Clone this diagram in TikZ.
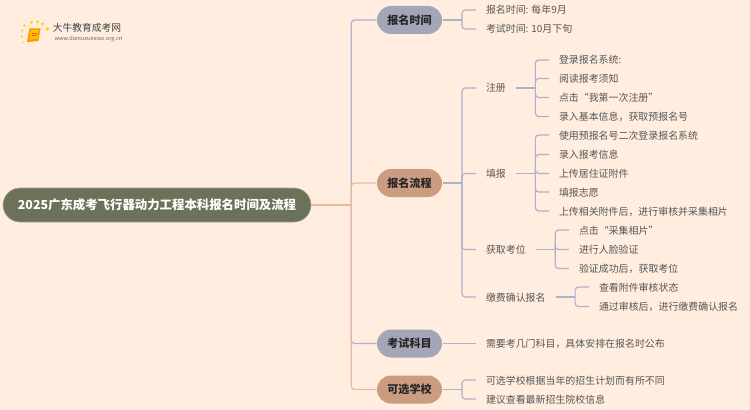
\documentclass[tikz,border=0pt]{standalone}
\usepackage{fontspec}
\setmainfont{Noto Sans CJK SC}
\usetikzlibrary{shapes.misc}
\definecolor{bgc}{HTML}{FFEEE0}
\definecolor{rootc}{HTML}{6B7259}
\definecolor{bluec}{HTML}{A5A5B8}
\definecolor{orc}{HTML}{CC9C80}
\definecolor{lblue}{HTML}{ADB1C9}
\definecolor{lor}{HTML}{E6B9A0}
\definecolor{leaftxt}{HTML}{555555}
\newcommand{\conn}[2]{\draw[lnk] (#1.east) ++(19.5,0) |- (#2.west);}
\newcommand{\stem}[1]{\draw[lnkstraight] (#1.east) -- ++(19.5,0);}
\tikzset{
  x=0.75pt,y=-0.75pt,
  lnk/.style={draw=lblue,line width=0.9pt,rounded corners=2.5pt},
  lnkstraight/.style={draw=lblue,line width=0.9pt},
  lnkor/.style={draw=lor,line width=0.9pt,rounded corners=2.5pt},
  lnkorstraight/.style={draw=lor,line width=0.9pt},
  leaf/.style={anchor=west,inner xsep=7.5pt,inner ysep=1pt,outer sep=0pt,text=leaftxt,text height=7.5pt,text depth=1.5pt,font=\fontsize{7.45}{9}\selectfont},
  pill/.style={rounded rectangle,minimum width=48.75pt,minimum height=21pt,inner sep=0pt,outer sep=0.4pt,text=black!85,text height=8pt,text depth=1.7pt,font=\fontsize{8.3}{10}\selectfont\bfseries},
  bluepill/.style={pill,fill=bluec},
  orpill/.style={pill,fill=orc},
  rootn/.style={rounded rectangle,fill=rootc,draw=rootc!60!bgc,line width=0.4pt,minimum width=231pt,minimum height=25.5pt,inner sep=0pt,text=white,text height=9pt,text depth=1.9pt,font=\fontsize{9.3}{11}\selectfont\bfseries},
  logodot/.style={fill=#1,draw=none},
}
\begin{document}
\begin{tikzpicture}
\useasboundingbox (0,0) rectangle (750,410);
\fill[bgc] (0,0) rectangle (750,410);
% logo
\foreach \px/\py/\r in {24.5/25.5/1.3,31.5/22.5/1.5,37.5/22/1.5,42.5/24/1.6,47.5/29/1.8,22.5/30.5/1.2,22/36.5/1.1,23.5/42.5/0.9}
  \fill[logodot=yellow!70!orange] (\px,\py) circle (\r);
\fill[orange!85!yellow] (29.5,28.5) -- (40.5,28.5) -- (38.5,41) -- (27,42) -- cycle;
\fill[yellow!55!orange] (31,30) -- (39,30) -- (37.5,39) -- (29,39.5) -- cycle;
\draw[orange!70!red,line width=0.3pt] (32,33) -- (37.5,33) (31.5,35.5) -- (37,35.5);
\shade[left color=bgc,middle color=black!25,right color=bgc] (53,32.7) rectangle (133,33.5);
\node[inner sep=0pt,text=black!75,anchor=center,font=\fontsize{7.3}{9}\selectfont] (logotext) at (87,27.5) {大牛教育成考网};
\node[inner sep=0pt,text=black!60,anchor=center,font=\fontsize{4.2}{5}\selectfont] (logourl) at (88.5,39) {www.daniuxuexiao.org.cn};
% nodes
\node[rootn] (root) at (157,205) {2025广东成考飞行器动力工程本科报名时间及流程};
\node[bluepill] (b1) at (409.5,20) {报名时间};
\node[orpill] (b2) at (409.5,183) {报名流程};
\node[bluepill] (b3) at (409.5,343.5) {考试科目};
\node[orpill] (b4) at (409.5,389.5) {可选学校};
\node[leaf] (a1) at (476,10) {报名时间: 每年9月};
\node[leaf] (a2) at (476,29) {考试时间: 10月下旬};
\node[leaf] (c1) at (476,88) {注册};
\node[leaf] (c2) at (476,173.5) {填报};
\node[leaf] (c3) at (476,249.5) {获取考位};
\node[leaf] (c4) at (476,297) {缴费确认报名};
\node[leaf] (d1) at (549,60) {登录报名系统:};
\node[leaf] (d2) at (549,78.5) {阅读报考须知};
\node[leaf] (d3) at (549,97.5) {点击“我第一次注册”};
\node[leaf] (d4) at (549,116.5) {录入基本信息，获取预报名号};
\node[leaf] (e1) at (549,135) {使用预报名号二次登录报名系统};
\node[leaf] (e2) at (549,154.5) {录入报考信息};
\node[leaf] (e3) at (549,173.5) {上传居住证附件};
\node[leaf] (e4) at (549,192) {填报志愿};
\node[leaf] (e5) at (549,211) {上传相关附件后，进行审核并采集相片};
\node[leaf] (f1) at (569,230) {点击“采集相片”};
\node[leaf] (f2) at (569,249.5) {进行人脸验证};
\node[leaf] (f3) at (569,268.5) {验证成功后，获取考位};
\node[leaf] (g1) at (589,287) {查看附件审核状态};
\node[leaf] (g2) at (589,306.5) {通过审核后，进行缴费确认报名};
\node[leaf] (h1) at (476,343.5) {需要考几门科目，具体安排在报名时公布};
\node[leaf] (i1) at (476,380) {可选学校根据当年的招生计划而有所不同};
\node[leaf] (i2) at (476,399) {建议查看最新招生院校信息};
% trunk
\draw[lnk] (root.east) ++(40,0) |- (b1.west);
\draw[lnk] (root.east) ++(40,0) |- (b3.west);
\draw[lnkor] (root.east) ++(40,0) |- (b2.west);
\draw[lnkor] (root.east) ++(40,0) |- (b4.west);
\draw[lnkorstraight] (root.east) -- ++(40,0);
% brackets
\foreach \p/\c in {b1/a1,b1/a2,b2/c1,b2/c2,b2/c3,b2/c4,c1/d1,c1/d2,c1/d3,c1/d4,c2/e1,c2/e2,c2/e3,c2/e4,c2/e5,c3/f1,c3/f2,c3/f3,c4/g1,c4/g2,b4/i1,b4/i2}
  {\conn{\p}{\c}}
\foreach \p in {b1,b2,c1,c2,c3,c4,b4}
  {\stem{\p}}
\draw[lnkstraight] (b3.east) -- (h1.west);
\end{tikzpicture}
\end{document}
